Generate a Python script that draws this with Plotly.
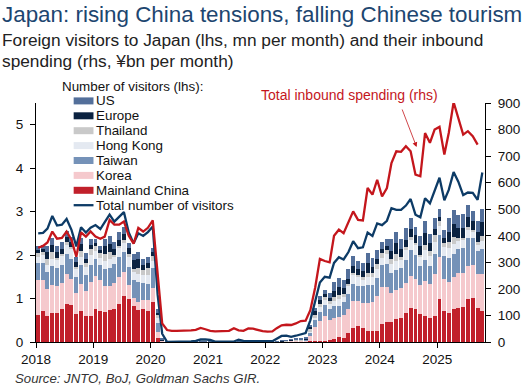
import pandas as pd
import plotly.graph_objects as go

# ---------------- data (monthly, Jan 2018 - Oct 2025), mn visitors ----------------
months = pd.date_range("2018-01-01", "2025-10-01", freq="MS")
mid = months + pd.Timedelta(days=14)

china = [
    .62, .71, .59, .67, .66, .75, .88, .86, .65, .72, .60, .59,
    .75, .72, .69, .73, .76, .88, 1.05, 1.00, .82, .73, .75, .71,
    .92, .09, .01, .0002, .0001, .0003, .0004, .0017, .0012, .0019, .0029, .0025,
    .0020, .0009, .0006, .0004, .0003, .0006, .0025, .0015, .0011, .0014, .0018, .0026,
    .0012, .0012, .0024, .0034, .0036, .0035, .0031, .0036, .0044, .022, .026, .031,
    .031, .036, .075, .108, .099, .209, .313, .365, .326, .256, .253, .262,
    .416, .459, .454, .534, .545, .664, .777, .752, .652, .594, .562, .605,
    .981, .723, .661, .765, .789, .797, .981, 1.018, .776, .716]
korea = [
    .81, .71, .64, .64, .63, .61, .68, .59, .48, .62, .58, .80,
    .78, .70, .59, .57, .60, .61, .56, .31, .20, .20, .21, .25,
    .32, .14, .017, .0007, .0005, .0004, .0008, .0013, .0014, .0019, .0035, .0038,
    .0018, .0003, .0006, .0007, .0007, .0006, .001, .0014, .0017, .0024, .0019, .0033,
    .0045, .0037, .0058, .0086, .0143, .0285, .0271, .0314, .0375, .124, .316, .457,
    .566, .468, .466, .457, .516, .546, .627, .569, .570, .631, .663, .790,
    .858, .814, .663, .661, .691, .685, .741, .693, .659, .803, .769, .968,
    .966, .716, .728, .721, .810, .794, .761, .764, .782, .840]
taiwan = [
    .38, .39, .37, .43, .42, .42, .46, .45, .37, .43, .36, .39,
    .39, .36, .40, .40, .43, .46, .46, .42, .41, .45, .40, .38,
    .46, .21, .0045, .0001, .0001, .0002, .0003, .0005, .0004, .0006, .0011, .0009,
    .0005, .0003, .0003, .0003, .0001, .0002, .0002, .0003, .0003, .0004, .0005, .0005,
    .0007, .0006, .0010, .0013, .0020, .0031, .0064, .0068, .0087, .080, .166, .196,
    .260, .257, .278, .275, .303, .345, .389, .359, .388, .424, .387, .412,
    .492, .522, .467, .459, .463, .534, .595, .554, .438, .501, .427, .455,
    .526, .534, .546, .537, .539, .569, .650, .600, .530, .590]
hong_kong = [
    .15, .19, .17, .18, .18, .20, .21, .23, .17, .19, .18, .23,
    .17, .16, .19, .21, .16, .21, .21, .23, .19, .19, .18, .20,
    .17, .11, .0055, .0, .0, .0, .0, .0, .0, .0, .0001, .0001,
    .0001, .0001, .0001, .0001, .0001, .0001, .0001, .0001, .0001, .0001, .0001, .0001,
    .0, .0, .0, .0, .0001, .0003, .0007, .0013, .0022, .026, .066, .120,
    .110, .110, .133, .140, .140, .180, .220, .193, .148, .182, .190, .220,
    .175, .230, .200, .220, .188, .230, .236, .227, .196, .218, .232, .281,
    .205, .205, .220, .227, .181, .176, .191, .145, .150, .170]
thailand = [
    .09, .08, .15, .15, .05, .05, .06, .06, .06, .13, .09, .14,
    .11, .10, .16, .16, .06, .06, .06, .07, .07, .14, .11, .17,
    .11, .06, .003, .0, .0, .0, .0, .0, .0, .0, .0005, .0005,
    .0003, .0001, .0002, .0002, .0001, .0001, .0002, .0003, .0003, .0004, .0006, .0009,
    .0008, .0009, .0024, .0045, .0046, .0052, .0087, .0094, .0107, .040, .045, .075,
    .067, .070, .087, .110, .042, .050, .049, .048, .055, .105, .086, .120,
    .114, .099, .129, .153, .065, .064, .070, .055, .058, .116, .098, .146,
    .098, .105, .135, .160, .065, .062, .063, .057, .060, .121]
europe = [
    .07, .07, .15, .17, .12, .11, .13, .12, .11, .16, .11, .09,
    .08, .08, .17, .19, .14, .13, .15, .13, .20, .21, .13, .10,
    .08, .06, .02, .0005, .0005, .0008, .001, .0015, .002, .003, .004, .003,
    .002, .001, .0015, .002, .002, .002, .01, .004, .003, .003, .003, .002,
    .002, .002, .004, .008, .01, .01, .012, .013, .016, .06, .09, .08,
    .07, .07, .14, .17, .14, .13, .15, .15, .15, .21, .15, .11,
    .09, .09, .19, .24, .19, .17, .19, .18, .20, .27, .18, .14,
    .11, .11, .23, .30, .24, .22, .24, .20, .24, .32]
us = [
    .09, .08, .15, .15, .14, .15, .14, .10, .11, .14, .12, .12,
    .10, .10, .17, .17, .16, .17, .16, .11, .13, .16, .13, .14,
    .11, .09, .02, .0003, .0002, .0003, .0005, .0009, .001, .0017, .0025, .003,
    .0025, .001, .0015, .0015, .0013, .0016, .0092, .002, .002, .002, .002, .002,
    .002, .002, .004, .008, .01, .013, .014, .016, .022, .050, .084, .100,
    .102, .108, .207, .204, .189, .227, .227, .181, .174, .232, .193, .211,
    .148, .164, .268, .260, .238, .282, .255, .197, .228, .275, .219, .260,
    .180, .191, .326, .320, .300, .331, .273, .227, .246, .300]
total_visitors = [
    2.50, 2.51, 2.61, 2.90, 2.68, 2.70, 2.83, 2.58, 2.20, 2.64, 2.52, 2.63,
    2.69, 2.60, 2.76, 2.93, 2.77, 2.88, 2.99, 2.52, 2.27, 2.50, 2.44, 2.53,
    2.66, 1.09, .19, .003, .002, .003, .004, .009, .014, .028, .057, .059,
    .046, .007, .012, .011, .010, .010, .051, .026, .018, .022, .021, .012,
    .017, .017, .066, .139, .147, .120, .144, .170, .207, .499, .935, 1.37,
    1.50, 1.48, 1.82, 1.95, 1.90, 2.07, 2.32, 2.16, 2.18, 2.52, 2.44, 2.73,
    2.69, 2.79, 3.08, 3.04, 3.04, 3.14, 3.29, 2.93, 2.87, 3.31, 3.19, 3.49,
    3.78, 3.26, 3.50, 3.91, 3.69, 3.38, 3.44, 3.43, 3.27, 3.90]
# inbound spending, JPY bn per month (Jan 2018 - Sep 2025)
spending = [
    355, 362, 375, 416, 389, 392, 416, 385, 321, 413, 397, 416,
    397, 389, 397, 460, 442, 442, 454, 400, 370, 430, 416, 430,
    458, 255, 70, 45, 42, 42, 42, 43, 44, 46, 53, 48,
    42, 40, 40, 40, 42, 52, 44, 42, 51, 50, 45, 41,
    39, 40, 52, 63, 65, 64, 70, 79, 80, 120, 205, 313,
    305, 300, 400, 423, 410, 450, 492, 460, 458, 580, 555, 611,
    548, 580, 674, 718, 716, 737, 718, 630, 624, 787, 750, 800,
    810, 706, 787, 903, 842, 781, 794, 775, 743]

year_ticks = pd.date_range("2018-01-01", "2025-01-01", freq="YS")
year_labels = [str(d.year) for d in year_ticks]

series = [
    ("Mainland China", china, "#c1202b"),
    ("Korea", korea, "#f5c9cd"),
    ("Taiwan", taiwan, "#7592b8"),
    ("Hong Kong", hong_kong, "#e4e9f1"),
    ("Thailand", thailand, "#c9c9c9"),
    ("Europe", europe, "#0b2240"),
    ("US", us, "#536f9a"),
]
VIS_COLOR = "#0d3b66"
SPEND_COLOR = "#c4161c"
FONT = "Liberation Sans, Arial, sans-serif"

fig = go.Figure()
for name, vals, col in series:
    fig.add_trace(go.Bar(x=mid, y=vals, name=name, showlegend=False,
                         marker=dict(color=col, line=dict(width=0))))
fig.add_trace(go.Scatter(x=mid, y=total_visitors, mode="lines", name="Total number of visitors",
                         showlegend=False, line=dict(color=VIS_COLOR, width=2.3)))
fig.add_trace(go.Scatter(x=mid[:len(spending)], y=spending, mode="lines", yaxis="y2",
                         showlegend=False, name="Total inbound spending",
                         line=dict(color=SPEND_COLOR, width=2.3)))

W, H, L, R, T, B = 532, 392, 36, 43, 103, 50
pw, ph = W - L - R, H - T - B


def px(x):
    return (x - L) / pw


def py(y):
    return (H - B - y) / ph


def text_anno(text, x, y, size, color, anchor="left"):
    fig.add_annotation(text=text, xref="paper", yref="paper", x=px(x), y=py(y),
                       xanchor=anchor, yanchor="middle", showarrow=False, borderpad=0,
                       font=dict(family=FONT, size=size, color=color))


text_anno("Japan: rising China tensions, falling Chinese tourism", 1, 14, 22.4, "#1d4670")
text_anno("Foreign visitors to Japan (lhs, mn per month) and their inbound", 1, 40, 17.3, "#222")
text_anno("spending (rhs, ¥bn per month)", 1, 61, 17.3, "#222")
text_anno("<i>Source: JNTO, BoJ, Goldman Sachs GIR.</i>", 14, 378, 13.2, "#333")
text_anno("Total inbound spending (rhs)", 352, 95, 14, SPEND_COLOR, "center")
fig.add_annotation(text="", xref="paper", yref="paper", x=px(420), y=py(147),
                   showarrow=True, ax=-15, ay=-39, arrowhead=2, arrowsize=1.2,
                   arrowwidth=0.8, arrowcolor=SPEND_COLOR)

# manual legend (stacking order shown top-down)
text_anno("Number of visitors (lhs):", 61, 86, 13.4, "#111")
leg_y0, leg_dy = 100.9, 14.9
for k, (name, vals, col) in enumerate(reversed(series)):
    yc = leg_y0 + k * leg_dy
    fig.add_shape(type="rect", xref="paper", yref="paper", x0=px(74), x1=px(94),
                  y0=py(yc + 3.5), y1=py(yc - 3.5), fillcolor=col, line=dict(width=0))
    text_anno(name, 96, yc, 13.4, "#111")
yc = leg_y0 + len(series) * leg_dy
fig.add_shape(type="line", xref="paper", yref="paper", x0=px(74), x1=px(94),
              y0=py(yc), y1=py(yc), line=dict(color=VIS_COLOR, width=2.3))
text_anno("Total number of visitors", 96, yc, 13.4, "#111")

axis_common = dict(showline=True, linecolor="#000", linewidth=1, ticks="outside", ticklen=5,
                   tickcolor="#000", showgrid=False, zeroline=False,
                   tickfont=dict(family=FONT, size=13.5, color="#111"))
fig.update_layout(
    width=W, height=H,
    margin=dict(l=L, r=R, t=T, b=B),
    paper_bgcolor="white", plot_bgcolor="white",
    barmode="stack", bargap=0.1,
    font=dict(family=FONT, color="#111"),
    xaxis=dict(type="date", range=["2018-01-01", "2025-11-01"], tickvals=year_ticks,
               ticktext=year_labels, **axis_common),
    yaxis=dict(range=[0, 5.5], tickvals=[0, 1, 2, 3, 4, 5], ticklabelstandoff=4, **axis_common),
    yaxis2=dict(range=[0, 900], tickvals=list(range(0, 901, 100)), overlaying="y",
                side="right", ticklabelstandoff=4, **axis_common),
    showlegend=False,
)

fig.write_html("out.html", config={"displayModeBar": False},
               post_script="document.body.style.margin='0';"
               "document.body.style.overflow='hidden';window.dispatchEvent(new Event('resize'));")
